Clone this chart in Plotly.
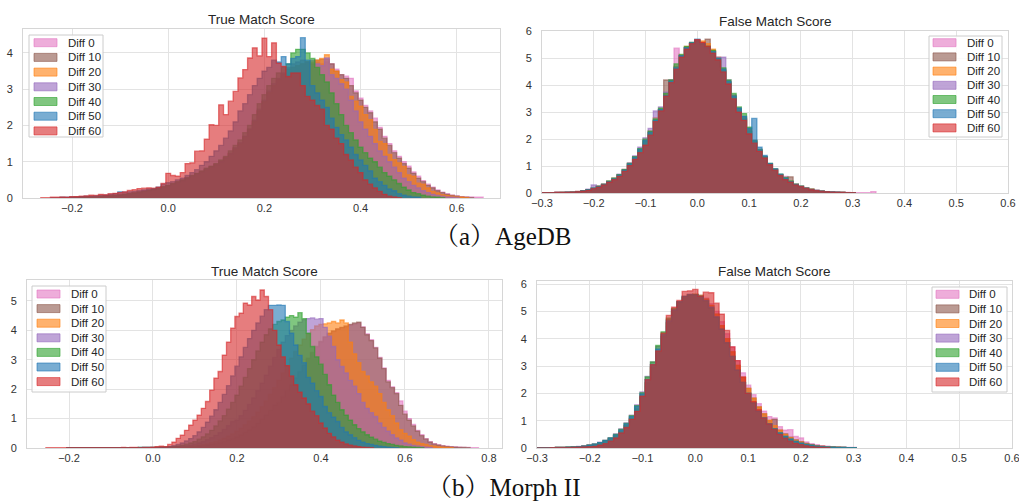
import plotly.graph_objects as go

# ---------------- data ----------------
diff_labels = ["Diff 0", "Diff 10", "Diff 20", "Diff 30", "Diff 40", "Diff 50", "Diff 60"]
diff_colors = ["#e377c2", "#8c564b", "#ff7f0e", "#9467bd", "#2ca02c", "#1f77b4", "#d62728"]
bin_width = 0.01

# AgeDB - True Match Score (density per bin, bins of 0.01; first bin centre per series)
agedb_true_first = [-0.22, -0.22, -0.22, -0.20, -0.20, -0.24, -0.26]
agedb_true_d0 = [0.01,0.01,0.01,0.02,0.02,0.03,0.03,0.04,0.04,0.05,
                 0.06,0.07,0.08,0.10,0.11,0.13,0.15,0.18,0.20,0.23,
                 0.26,0.29,0.33,0.37,0.42,0.47,0.52,0.58,0.64,0.70,
                 0.76,0.83,0.90,0.98,1.08,1.20,1.33,1.48,1.65,1.85,
                 2.05,2.32,2.58,2.82,3.02,3.20,3.35,3.45,3.50,3.55,
                 3.65,3.70,3.70,3.75,3.70,3.75,3.70,3.55,3.40,3.36,
                 3.30,2.95,2.75,2.55,2.40,2.20,1.95,1.70,1.50,1.30,
                 1.15,1.00,0.88,0.72,0.60,0.48,0.38,0.30,0.22,0.16,
                 0.12,0.08,0.06,0.04,0.03,0.03,0.02,0.02]
agedb_true_d10 = [0.01,0.01,0.02,0.02,0.02,0.03,0.03,0.04,0.05,0.06,
                  0.06,0.07,0.09,0.10,0.12,0.14,0.16,0.19,0.21,0.24,
                  0.27,0.30,0.34,0.39,0.44,0.49,0.55,0.61,0.67,0.73,
                  0.79,0.86,0.93,1.02,1.12,1.24,1.38,1.52,1.70,1.90,
                  2.12,2.40,2.66,2.90,3.10,3.28,3.42,3.55,3.60,3.65,
                  3.70,3.75,3.70,3.80,3.82,3.82,3.70,3.50,3.40,3.30,
                  3.10,2.90,2.70,2.50,2.35,2.10,1.90,1.65,1.45,1.25,
                  1.10,0.95,0.82,0.68,0.55,0.45,0.35,0.28,0.20,0.15,
                  0.10,0.07,0.05,0.03,0.02,0.01]
agedb_true_d20 = [0.01,0.01,0.01,0.02,0.02,0.03,0.03,0.04,0.05,0.05,
                  0.06,0.07,0.08,0.10,0.12,0.14,0.16,0.18,0.20,0.23,
                  0.26,0.30,0.34,0.38,0.43,0.48,0.54,0.60,0.66,0.72,
                  0.78,0.85,0.92,1.00,1.10,1.22,1.36,1.50,1.68,1.88,
                  2.10,2.40,2.65,2.90,3.10,3.25,3.40,3.55,3.60,3.65,
                  3.70,3.75,3.75,3.80,3.85,3.95,3.55,3.50,3.26,3.20,
                  2.80,2.67,2.53,2.30,2.16,1.89,1.56,1.50,1.20,1.06,
                  0.97,0.87,0.64,0.60,0.41,0.38,0.28,0.18,0.14,0.09,
                  0.07,0.05,0.03,0.02,0.01]
agedb_true_d30 = [0.01,0.01,0.02,0.02,0.02,0.03,0.04,0.05,0.05,0.06,
                  0.08,0.09,0.11,0.13,0.15,0.18,0.20,0.23,0.26,0.30,
                  0.34,0.38,0.43,0.48,0.54,0.60,0.66,0.72,0.80,0.86,
                  0.92,1.00,1.10,1.22,1.38,1.52,1.70,1.90,2.15,2.45,
                  2.70,2.95,3.15,3.30,3.45,3.60,3.70,3.75,3.80,3.75,
                  3.80,3.70,3.65,3.86,3.40,3.30,3.15,3.00,2.70,2.40,
                  2.10,1.90,1.70,1.50,1.30,1.15,1.00,0.85,0.70,0.55,
                  0.45,0.35,0.28,0.20,0.15,0.10,0.07,0.05,0.03,0.02,0.01]
agedb_true_d40 = [0.01,0.01,0.02,0.02,0.03,0.03,0.04,0.05,0.06,0.07,
                  0.08,0.10,0.12,0.14,0.16,0.18,0.21,0.24,0.27,0.31,
                  0.35,0.40,0.45,0.50,0.56,0.62,0.68,0.75,0.82,0.88,
                  0.95,1.05,1.15,1.30,1.45,1.60,1.80,2.00,2.30,2.60,
                  2.85,3.10,3.30,3.45,3.60,3.70,4.00,4.10,4.10,4.00,
                  3.85,3.60,3.40,3.20,2.90,2.60,2.30,2.00,1.80,1.60,
                  1.40,1.25,1.10,1.00,0.85,0.70,0.60,0.50,0.40,0.30,
                  0.22,0.15,0.12,0.08,0.05,0.03,0.02,0.01]
agedb_true_d50 = [0.01,0.01,0.02,0.02,0.03,0.03,0.04,0.05,0.05,0.06,
                  0.07,0.08,0.10,0.12,0.17,0.16,0.17,0.18,0.20,0.22,
                  0.25,0.26,0.30,0.38,0.42,0.45,0.50,0.55,0.62,0.70,
                  0.78,0.90,1.00,1.15,1.30,1.45,1.65,1.85,2.10,2.40,
                  2.60,2.85,3.10,3.30,3.50,3.60,3.80,3.75,3.90,3.70,
                  3.85,3.90,4.42,3.80,3.10,2.90,2.70,2.50,2.20,1.95,
                  1.75,1.60,1.40,1.20,1.05,0.90,0.75,0.55,0.45,0.35,
                  0.25,0.20,0.12,0.08,0.05,0.03,0.02]
agedb_true_d60 = [0.01,0.01,0.02,0.02,0.03,0.02,0.04,0.04,0.05,0.06,
                  0.08,0.07,0.10,0.09,0.12,0.13,0.15,0.17,0.21,0.23,
                  0.26,0.27,0.28,0.27,0.30,0.40,0.68,0.62,0.60,0.70,
                  0.95,0.97,1.29,1.30,1.62,2.02,2.00,2.57,2.30,2.67,
                  2.94,3.31,3.54,3.86,4.14,3.92,4.41,3.90,4.28,3.72,
                  3.63,3.35,3.45,3.45,3.10,2.80,2.70,2.55,2.45,2.00,
                  1.90,1.65,1.50,1.20,1.05,0.85,0.70,0.50,0.38,0.28,
                  0.18,0.10,0.05,0.03,0.01]

# AgeDB - False Match Score (first bin centre -0.30 for all)
agedb_false_first = [-0.30, -0.30, -0.30, -0.30, -0.30, -0.30, -0.30]
agedb_false_d0 = [0.01,0.01,0.01,0.02,0.02,0.02,0.03,0.05,0.07,0.11,
                  0.17,0.23,0.30,0.41,0.51,0.64,0.82,1.05,1.28,1.55,
                  1.85,2.20,2.68,3.10,3.65,4.15,5.38,5.10,5.38,5.55,
                  5.68,5.60,5.48,5.25,5.00,4.55,4.10,3.58,3.08,2.75,
                  2.28,1.90,1.58,1.35,1.08,0.88,0.68,0.62,0.42,0.32,
                  0.25,0.18,0.13,0.10,0.07,0.05,0.04,0.03,0.02,0.02,
                  0.01,0.01,0.01,0.01,0.05]
agedb_false_d10 = [0.01,0.01,0.01,0.02,0.02,0.03,0.03,0.05,0.08,0.12,
                   0.17,0.24,0.31,0.42,0.52,0.66,0.85,1.08,1.32,1.60,
                   1.92,2.25,2.70,3.10,4.20,4.20,4.65,5.10,5.40,5.55,
                   5.65,5.60,5.72,5.30,5.00,4.55,4.10,3.55,3.05,2.75,
                   2.30,1.90,1.58,1.32,1.08,0.88,0.68,0.52,0.60,0.32,
                   0.24,0.18,0.13,0.10,0.07,0.05,0.03,0.02,0.02,0.01,0.01]
agedb_false_d20 = [0.01,0.01,0.01,0.02,0.02,0.03,0.04,0.06,0.08,0.12,
                   0.18,0.25,0.32,0.43,0.55,0.68,0.88,1.10,1.35,1.62,
                   1.95,2.30,2.80,3.10,3.65,4.15,4.70,5.12,5.45,5.55,
                   5.70,5.65,5.55,5.35,5.05,4.60,4.15,3.62,3.10,2.80,
                   2.35,1.95,1.62,1.35,1.08,0.85,0.68,0.55,0.42,0.32,
                   0.25,0.18,0.15,0.10,0.07,0.05,0.04,0.03,0.02,0.01,0.01]
agedb_false_d30 = [0.01,0.01,0.01,0.02,0.02,0.03,0.04,0.06,0.09,0.14,
                   0.30,0.26,0.34,0.44,0.55,0.70,0.88,1.12,1.38,1.70,
                   2.05,2.40,3.05,3.20,3.75,4.20,4.70,5.10,5.40,5.60,
                   5.68,5.55,5.45,5.25,5.05,5.05,4.20,3.65,3.15,2.85,
                   2.40,1.95,1.60,1.35,1.08,0.88,0.68,0.55,0.42,0.32,
                   0.24,0.18,0.13,0.10,0.07,0.05,0.04,0.03,0.02,0.01,0.01]
agedb_false_d40 = [0.01,0.01,0.01,0.01,0.02,0.02,0.03,0.05,0.08,0.12,
                   0.18,0.25,0.33,0.45,0.55,0.68,0.87,1.10,1.35,1.65,
                   2.00,2.30,2.75,3.15,3.70,4.20,4.80,5.15,5.45,5.60,
                   5.65,5.55,5.45,5.30,5.00,4.65,4.20,3.70,3.20,2.95,
                   2.45,1.95,1.62,1.35,1.10,0.90,0.70,0.58,0.45,0.33,
                   0.25,0.18,0.13,0.09,0.07,0.05,0.03,0.02,0.02,0.01,0.01]
agedb_false_d50 = [0.01,0.01,0.01,0.02,0.02,0.03,0.03,0.05,0.08,0.12,
                   0.18,0.24,0.31,0.42,0.52,0.66,0.85,1.08,1.32,1.62,
                   1.95,2.25,2.70,3.10,3.62,4.15,4.65,5.10,5.40,5.58,
                   5.72,5.55,5.40,5.25,5.00,4.60,4.15,3.60,3.15,2.85,
                   2.40,2.77,1.70,1.40,1.10,0.90,0.70,0.55,0.42,0.32,
                   0.25,0.18,0.13,0.10,0.07,0.05,0.04,0.03,0.02,0.01,0.01]
agedb_false_d60 = [0.01,0.01,0.01,0.02,0.02,0.02,0.03,0.05,0.07,0.10,
                   0.16,0.22,0.30,0.40,0.50,0.62,0.80,1.02,1.25,1.50,
                   1.78,2.15,2.65,3.05,3.60,4.10,4.60,5.05,5.35,5.55,
                   5.70,5.60,5.45,5.20,4.95,4.50,4.05,3.50,3.00,2.70,
                   2.20,1.85,1.55,1.30,1.05,0.85,0.65,0.50,0.40,0.30,
                   0.24,0.17,0.12,0.09,0.06,0.05,0.03,0.02,0.02,0.01,0.01]

# Morph II - True Match Score
morph_true_first = [-0.20, -0.20, -0.20, -0.20, -0.20, -0.20, -0.25]
morph_true_d0 = [0.01,0.01,0.01,0.01,0.01,0.01,0.01,0.01,0.01,0.01,
                 0.01,0.01,0.01,0.01,0.01,0.01,0.01,0.01,0.01,0.01,
                 0.01,0.01,0.01,0.01,0.02,0.02,0.03,0.03,0.03,0.04,
                 0.05,0.06,0.07,0.09,0.11,0.14,0.17,0.21,0.26,0.31,
                 0.37,0.44,0.52,0.61,0.71,0.83,0.96,1.10,1.26,1.44,
                 1.53,1.73,1.93,2.13,2.36,2.58,2.80,3.02,3.22,3.42,
                 3.60,3.76,3.88,3.96,4.04,4.08,4.12,4.18,4.22,4.25,
                 4.12,3.88,3.68,3.42,3.08,2.72,2.30,2.08,1.88,1.60,
                 1.25,1.00,0.80,0.60,0.45,0.32,0.22,0.15,0.11,0.08,
                 0.06,0.05,0.04,0.03,0.02,0.02,0.01,0.01]
morph_true_d10 = [0.01,0.01,0.01,0.01,0.01,0.01,0.01,0.01,0.01,0.01,
                  0.01,0.01,0.01,0.01,0.01,0.01,0.01,0.01,0.01,0.01,
                  0.01,0.01,0.01,0.02,0.02,0.02,0.03,0.03,0.04,0.04,
                  0.05,0.06,0.08,0.10,0.12,0.15,0.18,0.22,0.27,0.32,
                  0.38,0.45,0.53,0.62,0.72,0.84,0.97,1.12,1.28,1.46,
                  1.55,1.75,1.95,2.15,2.38,2.60,2.82,3.05,3.25,3.45,
                  3.62,3.78,3.90,3.98,4.05,4.10,4.15,4.20,4.25,4.28,
                  4.10,3.85,3.65,3.40,3.05,2.70,2.25,2.05,1.85,1.45,
                  1.15,0.95,0.75,0.57,0.42,0.30,0.20,0.13,0.10,0.07,
                  0.05,0.04,0.03,0.02,0.02,0.01]
morph_true_d20 = [0.01,0.01,0.01,0.01,0.01,0.01,0.01,0.01,0.01,0.01,
                  0.01,0.01,0.01,0.01,0.01,0.01,0.01,0.01,0.01,0.01,
                  0.01,0.02,0.02,0.02,0.02,0.03,0.03,0.04,0.05,0.06,
                  0.07,0.09,0.11,0.14,0.18,0.22,0.27,0.33,0.40,0.48,
                  0.57,0.67,0.79,0.92,1.06,1.22,1.40,1.60,1.82,2.05,
                  2.30,2.55,2.80,3.05,3.28,3.50,3.70,3.88,4.02,4.15,
                  4.20,4.22,4.25,4.30,4.25,4.35,4.25,3.60,3.20,2.90,
                  2.60,2.45,2.25,2.10,1.85,1.55,1.30,1.10,0.85,0.62,
                  0.50,0.40,0.28,0.20,0.15,0.12,0.08,0.06,0.04,0.03,
                  0.02,0.01]
morph_true_d30 = [0.01,0.01,0.01,0.01,0.01,0.01,0.01,0.01,0.01,0.01,
                  0.01,0.01,0.01,0.01,0.01,0.01,0.01,0.01,0.02,0.02,
                  0.02,0.02,0.02,0.03,0.03,0.04,0.05,0.06,0.08,0.10,
                  0.13,0.17,0.22,0.28,0.35,0.43,0.52,0.63,0.76,0.90,
                  0.95,1.10,1.28,1.48,1.70,1.95,2.20,2.48,2.78,3.08,
                  3.35,3.60,3.82,4.00,4.15,4.28,4.36,4.40,4.42,4.38,
                  4.40,4.10,3.80,3.45,3.00,2.77,2.55,2.30,2.10,1.85,
                  1.55,1.35,1.20,1.07,0.85,0.70,0.57,0.45,0.34,0.27,
                  0.17,0.13,0.09,0.07,0.05,0.03,0.02]
morph_true_d40 = [0.01,0.01,0.01,0.01,0.01,0.01,0.01,0.01,0.01,0.01,
                  0.01,0.01,0.01,0.01,0.01,0.01,0.01,0.02,0.02,0.02,
                  0.02,0.02,0.03,0.03,0.04,0.05,0.07,0.10,0.13,0.17,
                  0.22,0.30,0.38,0.48,0.60,0.75,0.92,1.10,1.32,1.55,
                  1.80,2.10,2.40,2.70,3.00,3.30,3.60,3.85,4.05,4.20,
                  4.30,4.35,4.45,4.50,4.45,4.60,4.40,3.90,3.45,3.10,
                  2.85,2.50,2.15,1.80,1.55,1.30,1.12,0.95,0.79,0.66,
                  0.55,0.45,0.37,0.30,0.23,0.19,0.15,0.12,0.09,0.07,
                  0.05,0.04,0.03,0.02,0.01]
morph_true_d50 = [0.01,0.01,0.01,0.01,0.01,0.01,0.01,0.01,0.01,0.01,
                  0.01,0.01,0.01,0.01,0.01,0.01,0.01,0.02,0.02,0.02,
                  0.02,0.02,0.03,0.03,0.05,0.08,0.12,0.17,0.24,0.32,
                  0.42,0.55,0.70,0.88,1.08,1.30,1.55,1.82,2.12,2.45,
                  2.78,3.10,3.42,3.72,4.00,4.25,4.48,4.70,4.85,4.85,
                  4.86,4.85,4.30,3.90,3.50,3.15,2.90,2.40,2.20,1.95,
                  1.75,1.41,1.20,1.05,0.90,0.70,0.55,0.45,0.35,0.26,
                  0.20,0.15,0.12,0.09,0.06,0.05,0.03,0.02,0.01]
morph_true_d60 = [0.01,0.01,0.01,0.01,0.01,0.01,0.01,0.01,0.01,0.01,
                  0.01,0.01,0.01,0.01,0.01,0.01,0.01,0.01,0.02,0.01,
                  0.02,0.02,0.01,0.02,0.02,0.03,0.05,0.06,0.05,0.12,
                  0.20,0.33,0.44,0.60,0.78,0.95,1.12,1.35,1.58,1.97,
                  2.37,2.60,3.16,3.60,4.07,4.47,4.58,4.92,4.86,5.15,
                  5.03,5.37,5.15,4.70,4.00,3.50,3.10,2.80,2.45,2.15,
                  1.90,1.70,1.50,1.25,1.10,0.85,0.68,0.50,0.38,0.27,
                  0.20,0.14,0.10,0.07,0.05,0.03,0.02,0.01]

# Morph II - False Match Score
morph_false_first = [-0.30, -0.30, -0.30, -0.30, -0.30, -0.30, -0.30]
morph_false_d0 = [0.01,0.01,0.01,0.01,0.02,0.02,0.02,0.03,0.04,0.06,
                  0.08,0.11,0.16,0.22,0.30,0.40,0.55,0.75,1.00,1.32,
                  1.72,2.25,2.80,3.40,3.95,4.45,4.88,5.20,5.42,5.55,
                  5.60,5.58,5.48,5.28,5.00,4.62,4.18,3.70,3.20,2.75,
                  2.30,1.95,1.62,1.35,1.15,1.10,0.78,0.65,0.67,0.42,
                  0.37,0.22,0.16,0.12,0.09,0.07,0.05,0.04,0.03,0.02,0.02]
morph_false_d10 = [0.01,0.01,0.01,0.01,0.02,0.02,0.03,0.04,0.05,0.07,
                   0.10,0.13,0.18,0.25,0.34,0.45,0.60,0.82,1.08,1.42,
                   1.85,2.38,2.95,3.52,4.08,4.58,5.00,5.30,5.50,5.60,
                   5.62,5.58,5.45,5.22,4.90,4.48,4.00,3.52,3.02,2.58,
                   2.18,1.82,1.50,1.25,1.00,1.05,0.65,0.52,0.40,0.30,
                   0.23,0.17,0.12,0.09,0.07,0.05,0.04,0.03,0.02,0.01,0.01]
morph_false_d20 = [0.01,0.01,0.01,0.01,0.02,0.02,0.03,0.04,0.05,0.07,
                   0.10,0.13,0.18,0.25,0.34,0.45,0.60,0.82,1.08,1.42,
                   1.85,2.38,2.95,3.52,4.08,4.58,5.00,5.30,5.50,5.60,
                   5.62,5.58,5.45,5.22,4.90,4.48,4.00,3.52,3.02,2.58,
                   2.18,1.82,1.50,1.25,1.02,0.82,0.65,0.50,0.38,0.29,
                   0.22,0.16,0.12,0.09,0.06,0.05,0.04,0.03,0.02,0.01,0.01]
morph_false_d30 = [0.01,0.01,0.01,0.01,0.02,0.02,0.03,0.04,0.06,0.08,
                   0.11,0.15,0.21,0.29,0.38,0.52,0.70,0.92,1.20,1.58,
                   2.05,2.62,3.15,3.72,4.20,4.70,5.05,5.35,5.55,5.62,
                   5.60,5.55,5.40,5.15,4.80,4.35,3.85,3.35,2.85,2.40,
                   2.00,1.65,1.35,1.10,0.88,0.70,0.55,0.42,0.32,0.24,
                   0.18,0.13,0.10,0.07,0.05,0.04,0.03,0.02,0.02,0.01,0.01]
morph_false_d40 = [0.01,0.01,0.01,0.01,0.02,0.02,0.03,0.04,0.05,0.07,
                   0.10,0.14,0.20,0.28,0.37,0.50,0.68,0.90,1.18,1.55,
                   2.02,2.60,3.15,3.75,4.25,4.75,5.10,5.35,5.55,5.60,
                   5.62,5.55,5.38,5.12,4.78,4.35,3.85,3.35,2.85,2.40,
                   2.00,1.65,1.35,1.10,0.88,0.70,0.55,0.42,0.32,0.24,
                   0.18,0.13,0.10,0.07,0.05,0.04,0.03,0.02,0.02,0.01,0.01]
morph_false_d50 = [0.01,0.01,0.01,0.01,0.02,0.02,0.03,0.04,0.05,0.07,
                   0.10,0.14,0.20,0.27,0.36,0.48,0.65,0.88,1.15,1.52,
                   1.98,2.50,3.05,3.62,4.15,4.65,5.05,5.35,5.55,5.62,
                   5.60,5.55,5.40,5.15,4.80,4.35,3.85,3.35,2.85,2.40,
                   2.00,1.65,1.35,1.10,0.88,0.70,0.55,0.42,0.32,0.24,
                   0.18,0.13,0.10,0.07,0.05,0.04,0.03,0.02,0.02,0.01,0.01]
morph_false_d60 = [0.00,0.00,0.00,0.01,0.01,0.01,0.01,0.02,0.03,0.04,
                   0.05,0.06,0.10,0.16,0.25,0.37,0.55,0.75,1.05,1.34,
                   1.90,2.50,3.05,3.55,4.20,4.85,5.15,5.40,5.73,5.75,
                   5.80,5.55,5.70,5.68,5.30,4.90,4.30,3.70,3.20,2.60,
                   2.00,1.70,1.40,1.10,0.88,0.68,0.50,0.36,0.25,0.17,
                   0.12,0.08,0.05,0.03,0.02,0.01]

agedb_true = [agedb_true_d0, agedb_true_d10, agedb_true_d20, agedb_true_d30,
              agedb_true_d40, agedb_true_d50, agedb_true_d60]
agedb_false = [agedb_false_d0, agedb_false_d10, agedb_false_d20, agedb_false_d30,
               agedb_false_d40, agedb_false_d50, agedb_false_d60]
morph_true = [morph_true_d0, morph_true_d10, morph_true_d20, morph_true_d30,
              morph_true_d40, morph_true_d50, morph_true_d60]
morph_false = [morph_false_d0, morph_false_d10, morph_false_d20, morph_false_d30,
               morph_false_d40, morph_false_d50, morph_false_d60]

panel_titles = ["True Match Score", "False Match Score", "True Match Score", "False Match Score"]
caption_a = "（a）AgeDB"
caption_b = "（b）Morph II"

# ---------------- figure ----------------
W, H = 1019, 501
ALPHA = 0.6


def rgba(hex_color, a):
    h = hex_color.lstrip("#")
    r, g, b = int(h[0:2], 16), int(h[2:4], 16), int(h[4:6], 16)
    return f"rgba({r},{g},{b},{a})"


def step_xy(first_centre, heights, w):
    edges = [first_centre - w / 2 + i * w for i in range(len(heights) + 1)]
    xs = [edges[0]] + edges
    ys = [0.0] + list(heights) + [0.0]
    return xs, ys


fig = go.Figure()

panels = [
    (agedb_true, agedb_true_first, "x", "y"),
    (agedb_false, agedb_false_first, "x2", "y2"),
    (morph_true, morph_true_first, "x3", "y3"),
    (morph_false, morph_false_first, "x4", "y4"),
]

for series_list, firsts, xa, ya in panels:
    for lab, col, vals, f0 in zip(diff_labels, diff_colors, series_list, firsts):
        xs, ys = step_xy(f0, vals, bin_width)
        fig.add_trace(go.Scatter(
            x=xs, y=ys, mode="lines", name=lab, showlegend=False,
            line=dict(shape="hv", color=rgba(col, ALPHA), width=1.3),
            fill="tozeroy", fillcolor=rgba(col, ALPHA),
            xaxis=xa, yaxis=ya, hoverinfo="skip",
        ))


def px_x(p):
    return p / W


def px_y(p):
    return 1 - p / H


grid_col = "#e3e3e3"
frame_col = "#d6d6d6"
tick_font = dict(family="Liberation Sans, Arial, sans-serif", size=11, color="#333333")


def xaxis_cfg(dom, rng, vals, texts, anchor):
    return dict(domain=dom, range=rng, tickvals=vals, ticktext=texts, anchor=anchor,
                showgrid=True, gridcolor=grid_col, gridwidth=1, zeroline=False,
                showline=True, linecolor=frame_col, linewidth=1, mirror=True,
                ticks="", tickfont=tick_font, automargin=False, fixedrange=True,
                ticklabeloverflow="allow")


def yaxis_cfg(dom, rng, vals, anchor):
    return dict(domain=dom, range=rng, tickvals=vals, ticktext=[str(v) for v in vals],
                anchor=anchor, showgrid=True, gridcolor=grid_col, gridwidth=1,
                zeroline=False, showline=True, linecolor=frame_col, linewidth=1,
                mirror=True, ticks="", tickfont=tick_font, ticklabelstandoff=7,
                automargin=False, fixedrange=True)


def fmt(v):
    s = f"{abs(v):.1f}"
    return ("\u2212" + s) if v < -1e-9 else s


xt1 = [-0.2, 0.0, 0.2, 0.4, 0.6]
xt2 = [-0.3, -0.2, -0.1, 0.0, 0.1, 0.2, 0.3, 0.4, 0.5, 0.6]
xt3 = [-0.2, 0.0, 0.2, 0.4, 0.6, 0.8]

fig.update_layout(
    width=W, height=H, autosize=False,
    margin=dict(l=0, r=0, t=0, b=0, pad=0),
    paper_bgcolor="white", plot_bgcolor="white",
    xaxis=xaxis_cfg([px_x(23), px_x(500)], [-0.302, 0.69], xt1, [fmt(v) for v in xt1], "y"),
    yaxis=yaxis_cfg([px_y(198), px_y(29)], [0, 4.66], [0, 1, 2, 3, 4], "x"),
    xaxis2=xaxis_cfg([px_x(542), px_x(1008)], [-0.3, 0.6], xt2, [fmt(v) for v in xt2], "y2"),
    yaxis2=yaxis_cfg([px_y(193), px_y(31)], [0, 6.02], [0, 1, 2, 3, 4, 5, 6], "x2"),
    xaxis3=xaxis_cfg([px_x(27), px_x(502)], [-0.30, 0.831], xt3, [fmt(v) for v in xt3], "y3"),
    yaxis3=yaxis_cfg([px_y(448), px_y(280)], [0, 5.71], [0, 1, 2, 3, 4, 5], "x3"),
    xaxis4=xaxis_cfg([px_x(537), px_x(1012)], [-0.3, 0.6], xt2, [fmt(v) for v in xt2], "y4"),
    yaxis4=yaxis_cfg([px_y(448), px_y(281)], [0, 6.11], [0, 1, 2, 3, 4, 5, 6], "x4"),
    showlegend=False,
)

# ---- legends (matplotlib-style compact boxes) ----
# box: (left, top, right, bottom) px; swatch left px; label left px; first row centre; row step
legend_boxes = [
    (29, 35, 103, 137, 34, 66, 42.7, 14.7),
    (929, 36, 1002, 137, 933, 965, 42.7, 14.2),
    (32, 286, 106, 392, 37, 69, 294.0, 14.6),
    (932, 287, 1007, 392, 936, 967, 294.3, 14.6),
]
leg_font = dict(family="Liberation Sans, Arial, sans-serif", size=11.5, color="#262626")
sw_w, sw_h = 23, 8
for (l, t, r, b, sx, tx, y0, dy) in legend_boxes:
    fig.add_shape(type="rect", xref="paper", yref="paper",
                  x0=px_x(l), x1=px_x(r), y0=px_y(b), y1=px_y(t),
                  fillcolor="rgba(255,255,255,0.85)", line=dict(color="#cccccc", width=1),
                  layer="above")
    for i, (lab, col) in enumerate(zip(diff_labels, diff_colors)):
        cy = y0 + i * dy
        fig.add_shape(type="rect", xref="paper", yref="paper",
                      x0=px_x(sx), x1=px_x(sx + sw_w), y0=px_y(cy + sw_h / 2), y1=px_y(cy - sw_h / 2),
                      fillcolor=rgba(col, ALPHA), line=dict(color=rgba(col, ALPHA), width=1),
                      layer="above")
        fig.add_annotation(text=lab, x=px_x(tx), y=px_y(cy), xref="paper", yref="paper",
                           xanchor="left", yanchor="middle", showarrow=False, font=leg_font)

title_font = dict(family="Liberation Sans, Arial, sans-serif", size=13.5, color="#262626")
title_pos = [(261.5, 20), (775, 21), (264.5, 271), (774.5, 271)]
for t, (cx, cy) in zip(panel_titles, title_pos):
    fig.add_annotation(text=t, x=px_x(cx), y=px_y(cy), xref="paper", yref="paper",
                       xanchor="center", yanchor="middle", showarrow=False, font=title_font)

cap_font = dict(family="Liberation Serif, Times New Roman, Noto Serif CJK SC, serif", size=25, color="#111111")
fig.add_annotation(text=caption_a, x=px_x(502), y=px_y(236), xref="paper", yref="paper",
                   xanchor="center", yanchor="middle", showarrow=False, font=cap_font)
fig.add_annotation(text=caption_b, x=px_x(503), y=px_y(487), xref="paper", yref="paper",
                   xanchor="center", yanchor="middle", showarrow=False, font=cap_font)

# remove the browser's default page margin so the figure fills the window exactly
fig.write_html(
    "out.html",
    config={"displayModeBar": False, "staticPlot": True},
    post_script="document.body.style.margin='0px';document.body.style.overflow='hidden';",
)
